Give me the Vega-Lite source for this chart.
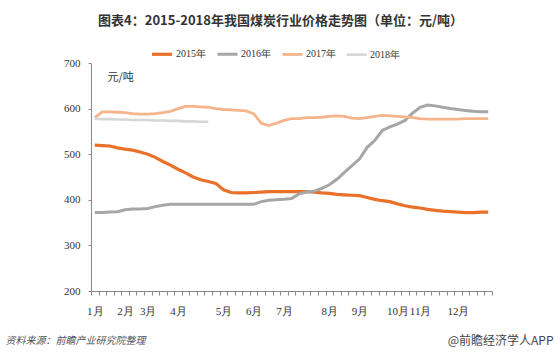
{
  "$schema": "https://vega.github.io/schema/vega-lite/v6.json",
  "width": 401,
  "height": 228,
  "autosize": {"type": "none"},
  "padding": {"left": 91, "top": 63, "right": 68, "bottom": 66},
  "background": "white",
  "config": {"view": {"stroke": null}, "font": "Noto Sans CJK SC"},
  "title": {
    "text": "图表4：2015-2018年我国煤炭行业价格走势图（单位：元/吨）",
    "fontSize": 13,
    "fontWeight": "bold",
    "color": "#333333",
    "anchor": "middle",
    "frame": "group",
    "dx": -11,
    "offset": 14
  },
  "data": {
    "values": [
      {"k": 0, "2015年": 520, "2016年": 372, "2017年": 580, "2018年": 578},
      {"k": 1, "2015年": 519, "2016年": 372, "2017年": 593, "2018年": 577},
      {"k": 2, "2015年": 518, "2016年": 373, "2017年": 593, "2018年": 577},
      {"k": 3, "2015年": 514, "2016年": 374, "2017年": 592, "2018年": 576},
      {"k": 4, "2015年": 511, "2016年": 378, "2017年": 591, "2018年": 576},
      {"k": 5, "2015年": 509, "2016年": 380, "2017年": 589, "2018年": 575},
      {"k": 6, "2015年": 505, "2016年": 380, "2017年": 588, "2018年": 575},
      {"k": 7, "2015年": 500, "2016年": 381, "2017年": 588, "2018年": 575},
      {"k": 8, "2015年": 493, "2016年": 385, "2017年": 589, "2018年": 574},
      {"k": 9, "2015年": 484, "2016年": 388, "2017年": 591, "2018年": 574},
      {"k": 10, "2015年": 476, "2016年": 390, "2017年": 594, "2018年": 573},
      {"k": 11, "2015年": 467, "2016年": 390, "2017年": 600, "2018年": 573},
      {"k": 12, "2015年": 459, "2016年": 390, "2017年": 605, "2018年": 572},
      {"k": 13, "2015年": 450, "2016年": 390, "2017年": 605, "2018年": 572},
      {"k": 14, "2015年": 444, "2016年": 390, "2017年": 604, "2018年": 571},
      {"k": 15, "2015年": 440, "2016年": 390, "2017年": 603, "2018年": 571},
      {"k": 16, "2015年": 436, "2016年": 390, "2017年": 600},
      {"k": 17, "2015年": 422, "2016年": 390, "2017年": 598},
      {"k": 18, "2015年": 416, "2016年": 390, "2017年": 597},
      {"k": 19, "2015年": 415, "2016年": 390, "2017年": 596},
      {"k": 20, "2015年": 415, "2016年": 390, "2017年": 595},
      {"k": 21, "2015年": 416, "2016年": 390, "2017年": 589},
      {"k": 22, "2015年": 417, "2016年": 396, "2017年": 568},
      {"k": 23, "2015年": 418, "2016年": 399, "2017年": 563},
      {"k": 24, "2015年": 418, "2016年": 400, "2017年": 568},
      {"k": 25, "2015年": 418, "2016年": 401, "2017年": 574},
      {"k": 26, "2015年": 418, "2016年": 403, "2017年": 578},
      {"k": 27, "2015年": 418, "2016年": 413, "2017年": 578},
      {"k": 28, "2015年": 418, "2016年": 417, "2017年": 580},
      {"k": 29, "2015年": 417, "2016年": 419, "2017年": 580},
      {"k": 30, "2015年": 415, "2016年": 425, "2017年": 581},
      {"k": 31, "2015年": 414, "2016年": 433, "2017年": 583},
      {"k": 32, "2015年": 412, "2016年": 445, "2017年": 584},
      {"k": 33, "2015年": 411, "2016年": 460, "2017年": 583},
      {"k": 34, "2015年": 410, "2016年": 475, "2017年": 579},
      {"k": 35, "2015年": 409, "2016年": 490, "2017年": 578},
      {"k": 36, "2015年": 405, "2016年": 515, "2017年": 580},
      {"k": 37, "2015年": 401, "2016年": 530, "2017年": 583},
      {"k": 38, "2015年": 398, "2016年": 552, "2017年": 585},
      {"k": 39, "2015年": 396, "2016年": 560, "2017年": 584},
      {"k": 40, "2015年": 391, "2016年": 566, "2017年": 583},
      {"k": 41, "2015年": 387, "2016年": 574, "2017年": 582},
      {"k": 42, "2015年": 384, "2016年": 590, "2017年": 580},
      {"k": 43, "2015年": 382, "2016年": 603, "2017年": 578},
      {"k": 44, "2015年": 379, "2016年": 608, "2017年": 577},
      {"k": 45, "2015年": 377, "2016年": 606, "2017年": 577},
      {"k": 46, "2015年": 375, "2016年": 603, "2017年": 577},
      {"k": 47, "2015年": 374, "2016年": 600, "2017年": 577},
      {"k": 48, "2015年": 373, "2016年": 598, "2017年": 577},
      {"k": 49, "2015年": 372, "2016年": 596, "2017年": 578},
      {"k": 50, "2015年": 372, "2016年": 594, "2017年": 578},
      {"k": 51, "2015年": 373, "2016年": 593, "2017年": 578},
      {"k": 52, "2015年": 373, "2016年": 593, "2017年": 578}
    ]
  },
  "transform": [{"fold": ["2015年", "2016年", "2017年", "2018年"], "as": ["year", "v"]}],
  "encoding": {
    "x": {
      "field": "k",
      "type": "quantitative",
      "scale": {"domain": [-0.5, 52.5], "nice": false, "zero": false},
      "axis": {
        "values": [-0.5, 0.5, 1.5, 2.5, 3.5, 4.5, 5.5, 6.5, 7.5, 8.5, 9.5, 10.5, 11.5, 12.5, 13.5, 14.5, 15.5, 16.5, 17.5, 18.5, 19.5, 20.5, 21.5, 22.5, 23.5, 24.5, 25.5, 26.5, 27.5, 28.5, 29.5, 30.5, 31.5, 32.5, 33.5, 34.5, 35.5, 36.5, 37.5, 38.5, 39.5, 40.5, 41.5, 42.5, 43.5, 44.5, 45.5, 46.5, 47.5, 48.5, 49.5, 50.5, 51.5, 52.5, 0, 4, 7, 11, 17, 21, 25, 31, 35, 40, 43, 48],
        "labelExpr": "indexof([0,4,7,11,17,21,25,31,35,40,43,48], datum.value) >= 0 ? ['1月','2月','3月','4月','5月','6月','7月','8月','9月','10月','11月','12月'][indexof([0,4,7,11,17,21,25,31,35,40,43,48], datum.value)] : ''",
        "labelOverlap": false,
        "labelFlush": false,
        "labelBound": false,
        "labelPadding": 10,
        "labelFont": "Liberation Sans Narrow",
        "labelFontSize": 11,
        "labelColor": "#333333",
        "grid": false,
        "domainColor": "#888888",
        "tickColor": "#888888",
        "tickSize": 4,
        "tickOpacity": {"condition": {"test": "datum.value % 1 === 0", "value": 0}, "value": 1},
        "title": "资料来源：前瞻产业研究院整理",
        "titleX": -86,
        "titleY": 49,
        "titleAlign": "left",
        "titleBaseline": "middle",
        "titleFontStyle": "italic",
        "titleFontWeight": "normal",
        "titleFontSize": 10,
        "titleColor": "#555555"
      }
    }
  },
  "layer": [
    {
      "mark": {"type": "line", "interpolate": "linear"},
      "encoding": {
        "y": {
          "field": "v",
          "type": "quantitative",
          "scale": {"domain": [200, 700], "nice": false, "zero": false},
          "axis": {
            "values": [200, 300, 400, 500, 600, 700],
            "grid": false,
            "domainColor": "#888888",
            "tickColor": "#888888",
            "tickSize": 3,
            "labelPadding": 8,
            "labelFont": "Liberation Sans Narrow",
            "labelFontSize": 11,
            "labelColor": "#333333",
            "title": "元/吨",
            "titleAngle": 0,
            "titleX": 16,
            "titleY": 14,
            "titleAlign": "left",
            "titleBaseline": "middle",
            "titleFontWeight": "normal",
            "titleFontSize": 11,
            "titleColor": "#333333"
          }
        },
        "color": {
          "field": "year",
          "type": "nominal",
          "scale": {"domain": ["2015年", "2016年", "2017年", "2018年"], "range": ["#E9712A", "#A6A6A6", "#F5B48A", "#D6D6D6"]},
          "legend": {
            "orient": "none",
            "legendX": 59,
            "legendY": -21,
            "direction": "horizontal",
            "title": null,
            "symbolType": "stroke",
            "symbolSize": 400,
            "symbolStrokeWidth": 3,
            "labelFont": "Liberation Sans Narrow",
            "labelFontSize": 10,
            "labelColor": "#333333",
            "labelOffset": 2,
            "columnPadding": 5
          }
        },
        "strokeWidth": {
          "field": "year",
          "type": "nominal",
          "scale": {"domain": ["2015年", "2016年", "2017年", "2018年"], "range": [3.2, 2.6, 2.6, 2.6]},
          "legend": null
        }
      }
    },
    {
      "mark": {"type": "line", "opacity": 0},
      "encoding": {
        "y": {
          "field": "v",
          "type": "quantitative",
          "scale": {"domain": [200, 700], "nice": false, "zero": false},
          "axis": {
            "orient": "right",
            "domain": false,
            "ticks": false,
            "labels": false,
            "grid": false,
            "title": "@前瞻经济学人APP",
            "titleAngle": 0,
            "titleX": 61,
            "titleY": 277,
            "titleAlign": "right",
            "titleBaseline": "middle",
            "titleFontWeight": "normal",
            "titleFontSize": 12,
            "titleColor": "#444444"
          }
        }
      }
    }
  ],
  "resolve": {"axis": {"y": "independent"}}
}
